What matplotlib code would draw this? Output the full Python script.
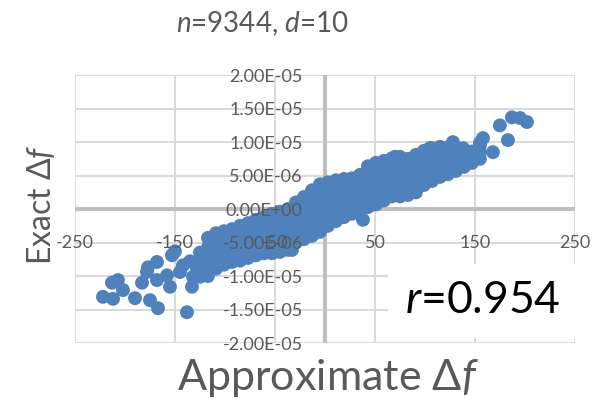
import numpy as np
import matplotlib
matplotlib.use("Agg")
import matplotlib.pyplot as plt

# Axis ticks
x_ticks = [-250, -150, -50, 50, 150, 250]
y_ticks = [-2.0e-5, -1.5e-5, -1.0e-5, -5.0e-6, 0.0, 5.0e-6, 1.0e-5, 1.5e-5, 2.0e-5]

# Dense band: approximate delta f (column) -> exact delta f values (x 1e-6)
band_x = [-125, -117, -109, -101, -93, -85, -77, -69, -61, -53, -45, -37,
          -29, -21, -13, -5, 3, 11, 19, 27, 35, 43, 51, 59, 67, 75, 83,
          91, 99, 107, 115, 123, 131, 139, 147, 155]
band_y = [
    [-10.1, -8.9, -7.7, -6.5],
    [-10.0, -9.3, -8.1, -6.9, -5.7, -4.3],
    [-8.9, -7.7, -6.5, -5.3, -4.1, -3.6],
    [-8.3, -7.1, -5.9, -4.7, -3.5, -3.3],
    [-7.9, -7.4, -6.2, -5.0, -3.8, -3.0],
    [-7.7, -6.5, -5.3, -4.1, -2.9, -2.5],
    [-7.3, -6.8, -5.6, -4.4, -3.2, -2.1],
    [-6.9, -5.7, -4.5, -3.3, -2.1, -1.6],
    [-6.6, -6.1, -4.9, -3.7, -2.5, -1.2],
    [-6.6, -5.4, -4.2, -3.0, -1.8, -0.7],
    [-6.4, -5.9, -4.7, -3.5, -2.3, -1.1, -0.4],
    [-6.1, -5.2, -4.0, -2.8, -1.6, -0.4, 0.0],
    [-4.9, -4.6, -3.4, -2.2, -1.0, 0.2, 1.0],
    [-4.5, -3.9, -2.7, -1.5, -0.3, 0.9, 1.8],
    [-4.0, -3.3, -2.1, -0.9, 0.3, 1.5, 2.8],
    [-3.4, -2.6, -1.4, -0.2, 1.0, 2.2, 3.0, 3.7],
    [-2.5, -1.9, -0.7, 0.5, 1.7, 2.9, 4.0],
    [-1.8, -1.2, 0.0, 1.2, 2.4, 3.6, 4.3],
    [-1.2, -0.5, 0.7, 1.9, 3.1, 4.3, 4.5],
    [-0.7, 0.2, 1.4, 2.6, 3.8, 4.6],
    [-0.3, 0.9, 2.1, 3.3, 4.5, 5.1],
    [0.3, 1.5, 2.7, 3.9, 5.1, 6.4],
    [0.7, 1.1, 2.3, 3.5, 4.7, 5.9, 6.9],
    [1.3, 1.8, 3.0, 4.2, 5.4, 6.6, 7.2],
    [1.9, 2.5, 3.7, 4.9, 6.1, 7.3, 7.6],
    [1.9, 3.1, 4.3, 5.5, 6.7, 7.8],
    [2.1, 2.8, 4.0, 5.2, 6.4, 7.5],
    [2.5, 3.5, 4.7, 5.9, 7.1, 8.1],
    [3.6, 4.2, 5.4, 6.6, 7.8, 8.7],
    [4.2, 4.6, 5.8, 7.0, 8.2, 9.1],
    [4.8, 5.4, 6.6, 7.8, 9.0, 9.3],
    [5.2, 6.1, 7.3, 8.5, 9.2],
    [5.7, 6.8, 8.0, 8.8],
    [6.3, 7.4, 8.3],
    [6.9, 7.9, 8.6],
    [7.5, 8.5, 9.5],
]

# Scattered points outside the dense band (x, exact x 1e-6)
sparse_x = [-222, -212, -213, -207, -202, -190, -183, -175, -167, -138,
            -177, -168, -153, -158, -155, -142, -133, -132, -178, -145,
            -150, -135, -128, -168, -33, 38,
            128, 158, 155, 105, 168, 175, 183, 187, 195, 202, 138, 70]
sparse_y = [-13.1, -13.4, -11.0, -10.6, -12.1, -13.3, -11.0, -13.6, -14.8, -15.4,
            -8.7, -7.9, -6.9, -9.9, -11.6, -8.4, -11.6, -10.1, -9.4, -9.4,
            -6.3, -7.8, -8.8, -10.6, -6.1, -1.6,
            10.0, 10.6, 9.9, 9.1, 8.5, 12.5, 10.3, 13.7, 13.6, 13.0, 9.1, 7.8]

approx = [bx for bx, col in zip(band_x, band_y) for _ in col] + sparse_x
exact = [v * 1e-6 for col in band_y for v in col] + [v * 1e-6 for v in sparse_y]

plt.rcParams['font.family'] = ['Lato', 'DejaVu Sans']
plt.rcParams['mathtext.fontset'] = 'custom'
plt.rcParams['mathtext.rm'] = 'Lato'
plt.rcParams['mathtext.it'] = 'Lato:italic'

gray_txt = '#595959'
grid_col = '#D9D9D9'
axis_col = '#BFBFBF'

fig = plt.figure(figsize=(5.98, 4.01), dpi=100)
ax = fig.add_axes([0.1254, 0.1446, 0.836, 0.668])

for xv in x_ticks:
    ax.axvline(xv, color=grid_col, lw=1.4, zorder=0)
for yv in y_ticks:
    ax.axhline(yv, color=grid_col, lw=1.4, zorder=0)
ax.axhline(0, color=axis_col, lw=3.0, zorder=0.5)
ax.axvline(0, color=axis_col, lw=3.0, zorder=0.5)

ax.scatter(approx, exact, s=100, color='#4F81BD', edgecolors='none', zorder=1)

ax.set_xlim(-250, 250)
ax.set_ylim(-2e-5, 2e-5)
ax.set_xticks(x_ticks)
ax.set_xticklabels([str(v) for v in x_ticks])
ax.set_yticks(y_ticks)
ax.set_yticklabels([f"{v:.2E}" for v in y_ticks])
ax.spines['left'].set_position(('data', 0))
ax.spines['bottom'].set_position(('data', 0))
for s in ax.spines.values():
    s.set_visible(False)
ax.tick_params(axis='x', length=0, pad=19, labelsize=13, labelcolor=gray_txt)
ax.tick_params(axis='y', length=0, pad=16, labelsize=13, labelcolor=gray_txt)
ax.xaxis.set_zorder(3)
ax.yaxis.set_zorder(3)

ax.text(0.816, 0.157, r"$r$=0.954", transform=ax.transAxes, ha='center', va='center',
        fontsize=32, color='black', zorder=5,
        bbox=dict(facecolor='white', edgecolor='none', pad=12))

fig.text(0.438, 0.920, r"$n$=9344, $d$=10", ha='center', va='baseline',
         fontsize=20, color=gray_txt)
fig.text(0.548, 0.028, r"Approximate Δ$f$", ha='center', va='baseline',
         fontsize=31, color=gray_txt)
fig.text(0.069, 0.489, r"Exact Δ$f$", ha='center', va='center', rotation=90,
         fontsize=23, color=gray_txt)

plt.savefig("out.png", dpi=100)
